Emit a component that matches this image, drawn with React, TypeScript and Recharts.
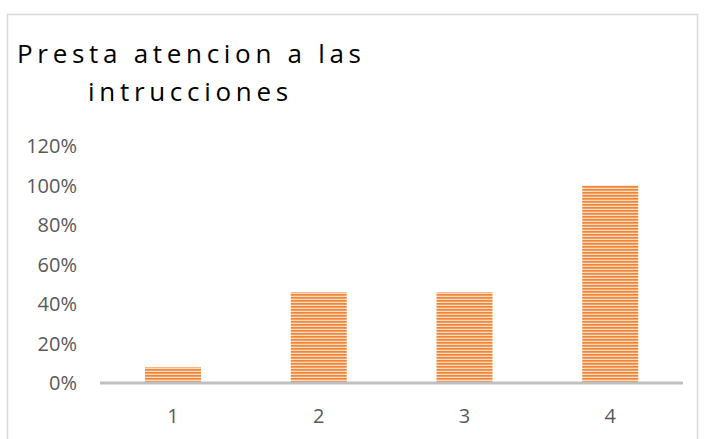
import React from 'react';
import { BarChart, Bar, XAxis, YAxis } from 'recharts';

const categories = ['1', '2', '3', '4'];
const values = [0.08, 0.46, 0.46, 1.0];
const yTicks = [0, 0.2, 0.4, 0.6, 0.8, 1.0, 1.2];
const titleLines = ['Presta atencion a las', 'intrucciones'];

const data = categories.map((c, i) => ({ name: c, value: values[i] }));

const tickStyle = { fill: '#595959', fontSize: 20, fontFamily: 'Open Sans, sans-serif' };

const App: React.FC = () => {
  return (
    <div style={{ position: 'absolute', left: 0, top: 0, width: 705, height: 439, background: '#fff' }}>
      <svg width={705} height={439} style={{ position: 'absolute', left: 0, top: 0 }}>
        <rect x={7.5} y={14.5} width={690} height={440} fill="none" stroke="#D9D9D9" strokeWidth={1.5} />
        <text x={17} y={63} fontSize={26} fontFamily="Open Sans, sans-serif" letterSpacing={4.7} fill="#000">
          {titleLines[0]}
        </text>
        <text x={88} y={101} fontSize={26} fontFamily="Open Sans, sans-serif" letterSpacing={4.7} fill="#000">
          {titleLines[1]}
        </text>
      </svg>
      <div style={{ position: 'absolute', left: 0, top: 0 }}>
        <BarChart width={705} height={439} data={data} margin={{ top: 146, right: 22, bottom: 0, left: 0 }}>
          <defs>
            <pattern id="stripes" width={4} height={3} patternUnits="userSpaceOnUse">
              <rect width={4} height={3} fill="#FADCC6" />
              <rect width={4} height={1.7} fill="#F08535" />
            </pattern>
          </defs>
          <XAxis
            dataKey="name"
            height={56}
            tickLine={false}
            stroke="#BFBFBF"
            strokeWidth={3}
            tick={tickStyle}
            tickMargin={20}
          />
          <YAxis
            width={100}
            domain={[0, 1.2]}
            ticks={yTicks}
            axisLine={false}
            tickLine={false}
            tick={tickStyle}
            tickMargin={17}
            tickFormatter={(v: number) => `${Math.round(v * 100)}%`}
          />
          <Bar dataKey="value" fill="url(#stripes)" barSize={56} isAnimationActive={false} />
        </BarChart>
      </div>
    </div>
  );
};

export default App;
